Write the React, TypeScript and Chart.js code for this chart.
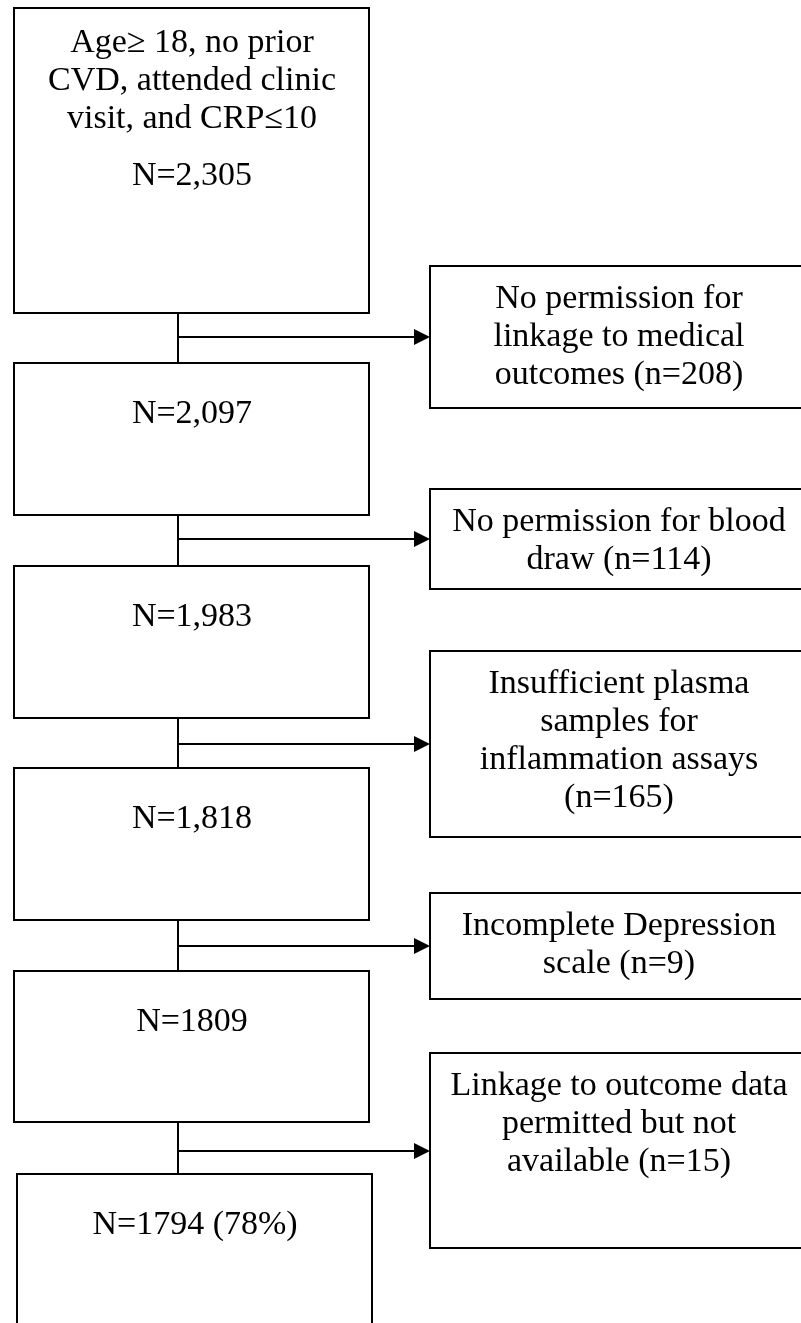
import React, { useEffect, useRef } from 'react';
import { Chart, registerables } from 'chart.js';

Chart.register(...registerables);

// ---------- data (text content of the flow diagram) ----------
const inclusionCriteria = ['Age\u2265 18, no prior', 'CVD, attended clinic', 'visit, and CRP\u226410'];
const remainingCounts = ['N=2,305', 'N=2,097', 'N=1,983', 'N=1,818', 'N=1809', 'N=1794 (78%)'];
const exclusionLine1 = ['No permission for', 'No permission for blood', 'Insufficient plasma', 'Incomplete Depression', 'Linkage to outcome data'];
const exclusionLine2 = ['linkage to medical', 'draw (n=114)', 'samples for', 'scale (n=9)', 'permitted but not'];
const exclusionLine3 = ['outcomes (n=208)', '', 'inflammation assays', '', 'available (n=15)'];
const exclusionLine4 = ['', '', '(n=165)', '', ''];

// ---------- layout (value-space of the hidden linear scales) ----------
const SPACE_W = 801;
const SPACE_H = 1323;
const mainLeft = [14, 14, 14, 14, 14, 17];
const mainRight = [369, 369, 369, 369, 369, 372];
const mainTop = [8, 363, 566, 768, 971, 1174];
const mainBottom = [313, 515, 718, 920, 1122, 1345];
const sideLeft = 430;
const sideRight = 809;
const sideTop = [266, 489, 651, 893, 1053];
const sideBottom = [408, 589, 837, 999, 1248];
const connectorX = 178;
const textCenterSide = 619;
const lineStep = 38;
const FONT = '34px "Liberation Serif", "Times New Roman", serif';
const INK = '#000000';

const flowPlugin = {
  id: 'flowDiagram',
  beforeDraw(chart: any) {
    const ctx = chart.ctx;
    ctx.save();
    ctx.fillStyle = '#ffffff';
    ctx.fillRect(0, 0, chart.width, chart.height);
    ctx.restore();
  },
  afterDraw(chart: any) {
    const xs = chart.scales.x;
    const ys = chart.scales.y;
    const px = (v: number) => Math.round(xs.getPixelForValue(v));
    const py = (v: number) => Math.round(ys.getPixelForValue(v));
    const ctx: CanvasRenderingContext2D = chart.ctx;
    ctx.save();
    ctx.strokeStyle = INK;
    ctx.fillStyle = INK;
    ctx.lineWidth = 2;
    ctx.lineJoin = 'miter';

    // vertical connectors between main boxes
    for (let i = 0; i < mainTop.length - 1; i++) {
      ctx.beginPath();
      ctx.moveTo(px(connectorX), py(mainBottom[i]));
      ctx.lineTo(px(connectorX), py(mainTop[i + 1]));
      ctx.stroke();
    }

    // main boxes
    for (let i = 0; i < mainTop.length; i++) {
      const x0 = px(mainLeft[i]);
      const x1 = px(mainRight[i]);
      const y0 = py(mainTop[i]);
      const y1 = py(mainBottom[i]);
      ctx.strokeRect(x0, y0, x1 - x0, y1 - y0);
    }

    // side boxes
    for (let i = 0; i < sideTop.length; i++) {
      const x0 = px(sideLeft);
      const x1 = px(sideRight);
      const y0 = py(sideTop[i]);
      const y1 = py(sideBottom[i]);
      ctx.strokeRect(x0, y0, x1 - x0, y1 - y0);
    }

    // arrows
    for (let i = 0; i < sideTop.length; i++) {
      const yMid = py((sideTop[i] + sideBottom[i]) / 2);
      const xStart = px(connectorX);
      const xEnd = px(sideLeft);
      ctx.beginPath();
      ctx.moveTo(xStart, yMid);
      ctx.lineTo(xEnd - 14, yMid);
      ctx.stroke();
      ctx.beginPath();
      ctx.moveTo(xEnd, yMid);
      ctx.lineTo(xEnd - 16, yMid - 8);
      ctx.lineTo(xEnd - 16, yMid + 8);
      ctx.closePath();
      ctx.fill();
    }

    // text
    ctx.font = FONT;
    ctx.textAlign = 'center';
    ctx.textBaseline = 'alphabetic';

    // first box criteria
    const c0 = px((mainLeft[0] + mainRight[0]) / 2);
    inclusionCriteria.forEach((t, j) => {
      ctx.fillText(t, c0, py(mainTop[0] + 44 + j * lineStep));
    });

    // counts
    remainingCounts.forEach((t, i) => {
      const cx = px((mainLeft[i] + mainRight[i]) / 2);
      const off = i === 0 ? 177 : 60;
      ctx.fillText(t, cx, py(mainTop[i] + off));
    });

    // exclusion texts
    for (let i = 0; i < sideTop.length; i++) {
      const lines = [exclusionLine1[i], exclusionLine2[i], exclusionLine3[i], exclusionLine4[i]].filter((s) => s);
      lines.forEach((t, j) => {
        ctx.fillText(t, px(textCenterSide), py(sideTop[i] + 42 + j * lineStep));
      });
    }

    ctx.restore();
  },
};

export default function App() {
  const canvasRef = useRef<HTMLCanvasElement | null>(null);

  useEffect(() => {
    if (!canvasRef.current) return;
    const chart = new Chart(canvasRef.current, {
      type: 'scatter',
      data: { datasets: [{ data: [], showLine: false, pointRadius: 0 }] },
      options: {
        responsive: false,
        maintainAspectRatio: false,
        animation: false,
        devicePixelRatio: 1,
        layout: { padding: 0 },
        plugins: { legend: { display: false }, tooltip: { enabled: false } },
        scales: {
          x: { type: 'linear', min: 0, max: SPACE_W, display: false },
          y: { type: 'linear', min: 0, max: SPACE_H, reverse: true, display: false },
        },
      },
      plugins: [flowPlugin],
    });
    return () => chart.destroy();
  }, []);

  return (
    <div style={{ position: 'absolute', left: 0, top: 0, width: SPACE_W, height: SPACE_H, background: '#fff' }}>
      <canvas ref={canvasRef} width={SPACE_W} height={SPACE_H} style={{ display: 'block' }} />
    </div>
  );
}
